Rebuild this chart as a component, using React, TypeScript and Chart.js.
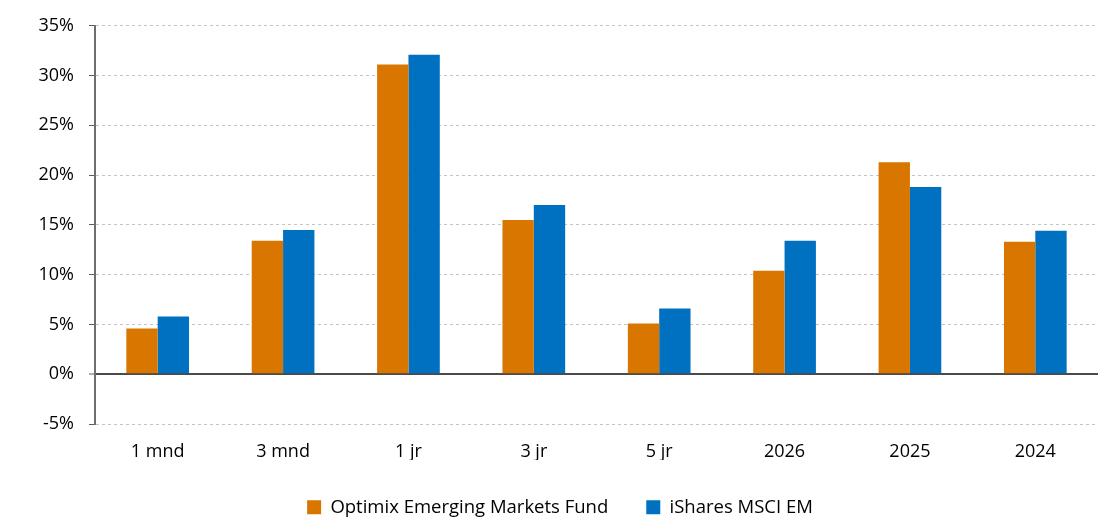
import React, { useEffect, useRef } from "react";
import { Chart, registerables } from "chart.js";

Chart.register(...registerables);

const categories = ["1 mnd", "3 mnd", "1 jr", "3 jr", "5 jr", "2026", "2025", "2024"];
const fundValues = [4.6, 13.4, 31.1, 15.5, 5.1, 10.4, 21.3, 13.3];
const indexValues = [5.8, 14.5, 32.1, 17.0, 6.6, 13.4, 18.8, 14.4];
const seriesNames = ["Optimix Emerging Markets Fund", "iShares MSCI EM"];
const yMin = -5;
const yMax = 35;
const yStep = 5;

const FONT = "'Open Sans', 'Liberation Sans', sans-serif";

const legendTweak = {
  id: "legendTweak",
  beforeInit(chart: any) {
    const lg = chart.legend;
    if (!lg) return;
    const orig = lg.fit;
    lg.fit = function () {
      orig.call(this);
      this.height = 57;
    };
  },
  afterLayout(chart: any) {
    const lg = chart.legend;
    if (!lg) return;
    lg.left += 11;
    lg.right += 11;
  },
};

export default function App() {
  const ref = useRef<HTMLCanvasElement | null>(null);
  useEffect(() => {
    document.body.style.margin = "0";
    const ctx = ref.current!.getContext("2d")!;
    const chart = new Chart(ctx, {
      type: "bar",
      data: {
        labels: categories,
        datasets: [
          {
            label: seriesNames[0],
            data: fundValues,
            backgroundColor: "#D87600",
            borderWidth: 0,
            categoryPercentage: 0.5,
            barPercentage: 1,
          },
          {
            label: seriesNames[1],
            data: indexValues,
            backgroundColor: "#0070C0",
            borderWidth: 0,
            categoryPercentage: 0.5,
            barPercentage: 1,
          },
        ],
      },
      plugins: [legendTweak],
      options: {
        animation: false,
        responsive: false,
        maintainAspectRatio: false,
        layout: { padding: { top: 23, right: 13, left: 0, bottom: 0 } },
        plugins: {
          tooltip: { enabled: false },
          legend: {
            position: "bottom",
            labels: {
              boxWidth: 14,
              boxHeight: 14,
              padding: 38,
              color: "#000",
              font: { family: FONT, size: 18.5 },
            },
          },
        },
        scales: {
          x: {
            afterFit: (s: any) => {
              s.height = 36;
            },
            grid: { display: false, drawTicks: false },
            border: { display: false },
            ticks: {
              color: "#000",
              padding: 17,
              font: { family: FONT, size: 18 },
            },
          },
          y: {
            min: yMin,
            max: yMax,
            afterFit: (s: any) => {
              s.width = 95;
            },
            ticks: {
              stepSize: yStep,
              color: "#000",
              padding: 15,
              font: { family: FONT, size: 18 },
              callback: (v: any) => `${v}%`,
            },
            grid: {
              color: (c: any) => (c.tick && c.tick.value === 0 ? "#4a4a4a" : "#c4c4c4"),
              lineWidth: (c: any) => (c.tick && c.tick.value === 0 ? 2 : 1),
              tickColor: "#5a5a5a",
              tickLength: 6,
              tickWidth: 1,
            },
            border: {
              display: true,
              color: "#6e6e6e",
              width: 2,
              dash: (c: any) => (c.tick && c.tick.value === 0 ? [] : [3, 3]),
            },
          },
        },
      },
    });
    return () => chart.destroy();
  }, []);
  return (
    <div style={{ width: 1111, height: 517 }}>
      <canvas ref={ref} width={1111} height={517} style={{ display: "block" }} />
    </div>
  );
}
